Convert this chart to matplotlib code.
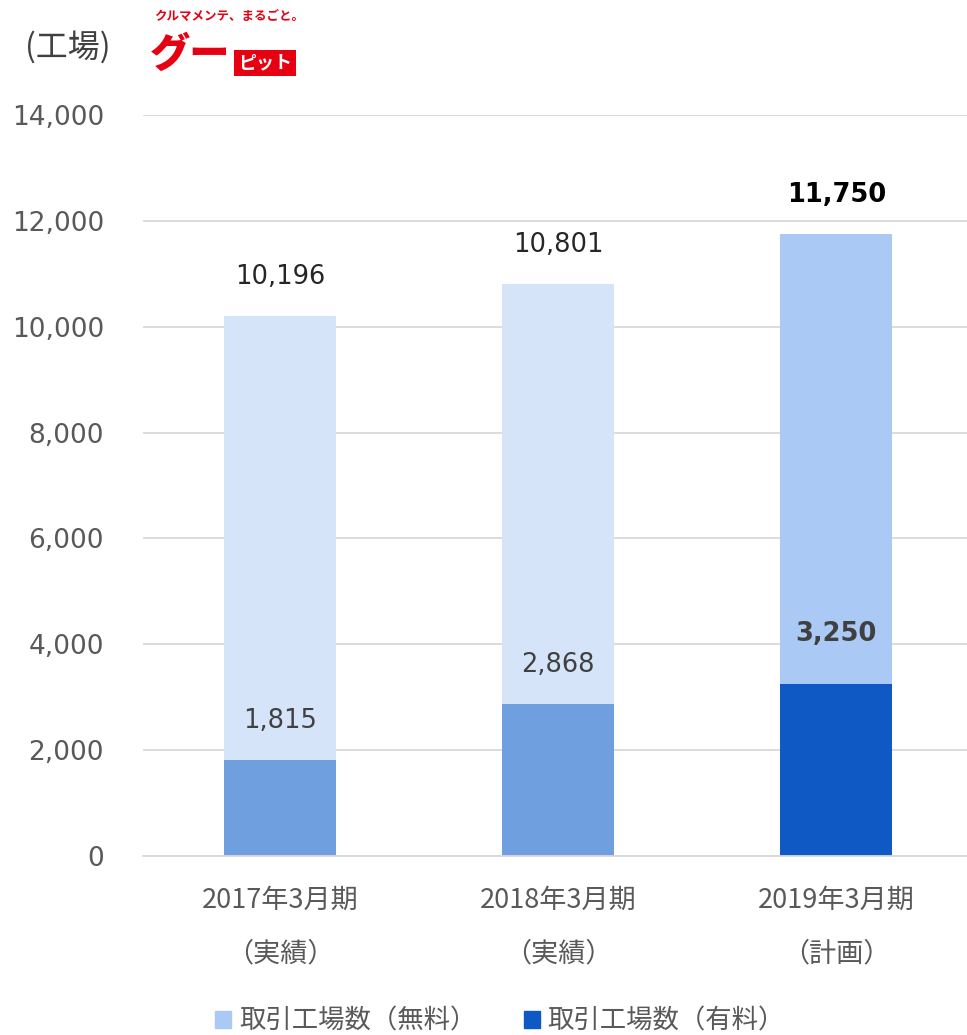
import matplotlib.pyplot as plt
from matplotlib.patches import Patch

plt.rcParams['font.family'] = ['DejaVu Sans', 'Noto Sans CJK JP']

# data
periods = ['2017年3月期\n\n（実績）', '2018年3月期\n\n（実績）', '2019年3月期\n\n（計画）']
total = [10196, 10801, 11750]
paid = [1815, 2868, 3250]
yticks = [0, 2000, 4000, 6000, 8000, 10000, 12000, 14000]

top_colors = ['#d5e4f9', '#d5e4f9', '#abc9f5']
bottom_colors = ['#709fe0', '#709fe0', '#0f59c4']
gray = '#595959'
jp = ['Noto Sans CJK JP', 'DejaVu Sans']

fig = plt.figure(figsize=(9.67, 10.35), dpi=100)
ax = fig.add_axes([143 / 967, 1 - 856 / 1035, 824 / 967, (856 - 115) / 1035])

x = list(range(len(periods)))
free = [t - p for t, p in zip(total, paid)]
ax.bar(x, paid, width=0.403, color=bottom_colors, zorder=2)
ax.bar(x, free, bottom=paid, width=0.403, color=top_colors, zorder=2)

ax.set_xlim(-0.493, 2.47)
ax.set_ylim(0, 14000)
ax.set_yticks(yticks)
ax.set_yticklabels([f'{v:,}' for v in yticks], fontsize=19, color=gray)
ax.tick_params(axis='y', length=0, pad=28)
ax.set_xticks(x)
ax.set_xticklabels(periods, fontsize=19.5, color=gray, family=jp, linespacing=1.0)
ax.tick_params(axis='x', length=0, pad=22)
ax.grid(axis='y', color='#d9d9d9', linewidth=1.3, zorder=0)
for s in ['top', 'right', 'left']:
    ax.spines[s].set_visible(False)
ax.spines['bottom'].set_color('#d9d9d9')
ax.spines['bottom'].set_linewidth(1.3)

# value labels
for i in x:
    bold = i == 2
    ax.annotate(f'{total[i]:,}', (i, total[i]), xytext=(0, 28), textcoords='offset points',
                ha='center', va='center', fontsize=18.5,
                color='black' if bold else '#262626', fontweight='bold' if bold else 'normal')
    ax.annotate(f'{paid[i]:,}', (i, paid[i]), xytext=(0, 28 if not bold else 36),
                textcoords='offset points', ha='center', va='center', fontsize=18.5,
                color='#404040', fontweight='bold' if bold else 'normal')

# unit label
fig.text(25 / 967, 1 - 47 / 1035, '(工場)', fontsize=23, color='#404040', va='center', family=jp)

# logo made of text
fig.text(229 / 967, 1 - 17 / 1035, 'クルマメンテ、まるごと。', fontsize=9, color='#e60012',
         ha='center', va='center', fontweight='bold', family=['Noto Sans CJK JP'])
fig.text(150 / 967, 1 - 55 / 1035, 'グー', fontsize=29, color='#e60012', ha='left', va='center',
         fontweight='black', style='italic', family=['Noto Sans CJK JP'])
fig.text(265 / 967, 1 - 63 / 1035, 'ピット', fontsize=13, color='white', ha='center', va='center',
         fontweight='bold', family=['Noto Sans CJK JP'],
         bbox=dict(boxstyle='square,pad=0.2', fc='#e60012', ec='none'))

# legend
handles = [Patch(color='#abc9f5', label='取引工場数（無料）'),
           Patch(color='#0f59c4', label='取引工場数（有料）')]
fig.legend(handles=handles, loc='center', bbox_to_anchor=(500 / 967, 1 - 1021 / 1035), ncol=2,
           frameon=False, handlelength=0.6, handleheight=0.6, handletextpad=0.3,
           columnspacing=1.8, prop={'family': ['Noto Sans CJK JP'], 'size': 19},
           labelcolor=gray)

fig.savefig('out.png', dpi=100)
